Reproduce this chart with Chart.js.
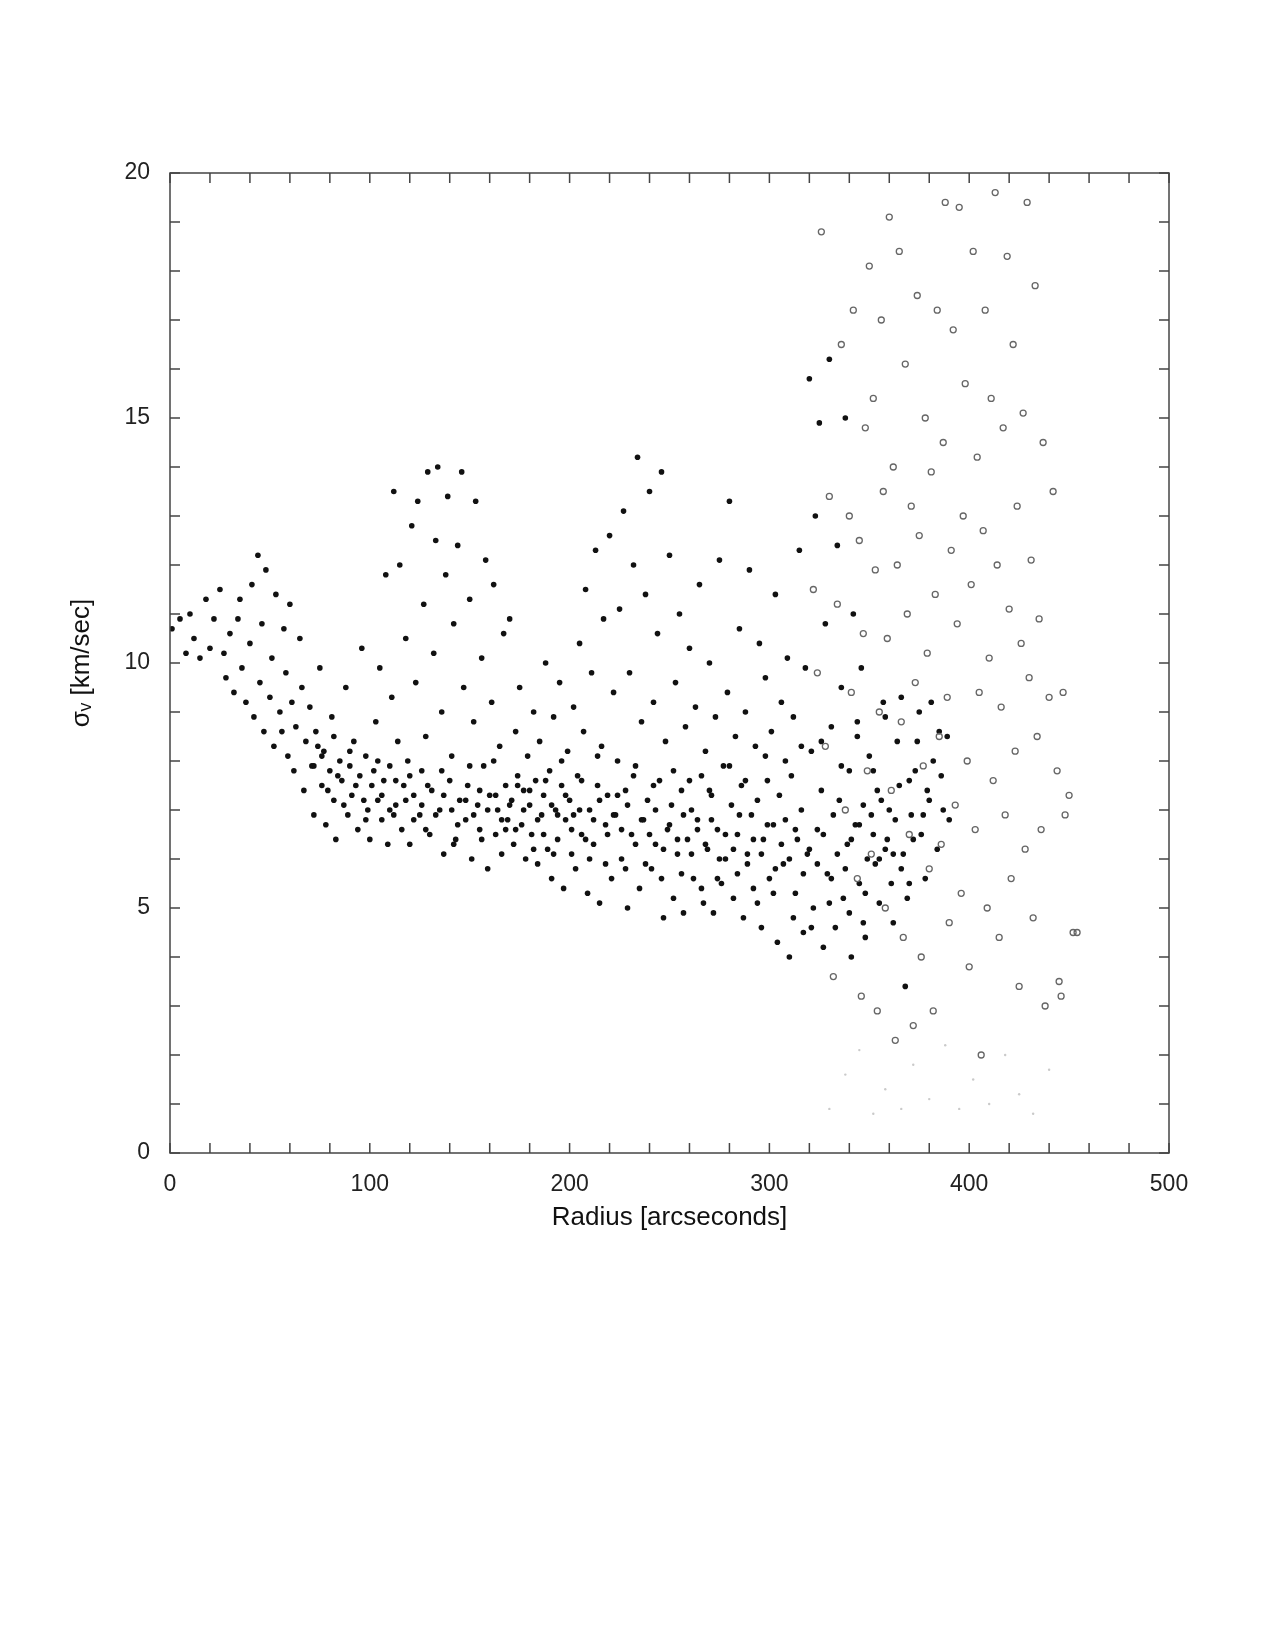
<!DOCTYPE html>
<html>
<head>
<meta charset="utf-8">
<script src="https://cdn.jsdelivr.net/npm/chart.js@4"></script>
<style>
  body { margin: 0; background: #fff; }
  #wrap { position: absolute; left: 0; top: 0; width: 1275px; height: 1650px; }
</style>
</head>
<body>
<div id="wrap"><canvas id="grafico"></canvas></div>
<script>
// ====================== DATA ======================
const xTicks = [0, 100, 200, 300, 400, 500];
const yTicks = [0, 5, 10, 15, 20];

// inner stars [radius, sigma]
const innerStars = [
[1,10.7],[5,10.9],[8,10.2],[10,11],[12,10.5],[15,10.1],[18,11.3],[20,10.3],[22,10.9],
[25,11.5],[27,10.2],[28,9.7],[30,10.6],[32,9.4],[34,10.9],[35,11.3],[36,9.9],[38,9.2],[40,10.4],[41,11.6],[42,8.9],[44,12.2],[45,9.6],[46,10.8],[47,8.6],[48,11.9],[50,9.3],[51,10.1],[52,8.3],[53,11.4],[55,9.0],[56,8.6],[57,10.7],[58,9.8],[59,8.1],[60,11.2],[61,9.2],[62,7.8],[63,8.7],[65,10.5],[66,9.5],[67,7.4],[68,8.4],[70,9.1],[71,7.9],[72,6.9],[73,8.6],[75,9.9],[76,7.5],[77,8.2],[78,6.7],[80,7.8],[81,8.9],[82,7.2],[83,6.4],[85,8.0],[86,7.6],[88,9.5],[89,6.9],[90,7.9],[91,7.3],[92,8.4],[94,6.6],[95,7.7],[96,10.3],[98,8.1],[99,7.0],[100,6.4],[101,7.5],[103,8.8],[104,7.2],[105,9.9],[106,6.8],[107,7.6],[108,11.8],[109,6.3],[110,7.9],[111,9.3],[112,13.5],[113,7.1],[114,8.4],[115,12.0],[116,6.6],[117,7.5],[118,10.5],[119,8.0],[120,6.3],[121,12.8],[122,7.3],[123,9.6],[124,13.3],[125,6.9],[126,7.8],[127,11.2],[128,8.5],[129,13.9],[130,6.5],[131,7.4],[132,10.2],[133,12.5],[134,14.0],[135,7.0],[136,9.0],[137,6.1],[138,11.8],[139,13.4],[140,7.6],[141,8.1],[142,10.8],[143,6.4],[144,12.4],[145,7.2],[146,13.9],[147,9.5],[148,6.8],[149,7.5],[150,11.3],[151,6.0],[152,8.8],[153,13.3],[154,7.1],[155,6.6],[156,10.1],[157,7.9],[158,12.1],[159,5.8],[160,7.3],[161,9.2],[162,11.6],[163,6.5],[164,7.0],[165,8.3],[166,6.1],[167,10.6],[168,7.5],[169,6.8],[170,10.9],[171,7.2],[172,6.3],[173,8.6],[174,7.7],[175,9.5],[176,6.7],[177,7.4],[178,6.0],[179,8.1],[180,7.1],[181,6.5],[182,9.0],[183,7.6],[184,5.9],[185,8.4],[186,6.9],[187,7.3],[188,10.0],[189,6.2],[190,7.8],[191,5.6],[192,8.9],[193,7.0],[194,6.4],[195,9.6],[196,7.5],[197,5.4],[198,6.8],[199,8.2],[200,7.2],[201,6.1],[202,9.1],[203,5.8],[204,7.7],[205,10.4],[206,6.5],[207,8.6],[208,11.5],[209,5.3],[210,7.0],[211,9.8],[212,6.3],[213,12.3],[214,7.5],[215,5.1],[216,8.3],[217,10.9],[218,6.7],[219,7.3],[220,12.6],[221,5.6],[222,9.4],[223,6.9],[224,8.0],[225,11.1],[226,6.0],[227,13.1],[228,7.4],[229,5.0],[230,9.8],[231,6.5],[232,12.0],[233,7.9],[234,14.2],[235,5.4],[236,8.8],[237,6.8],[238,11.4],[239,7.2],[240,13.5],[241,5.8],[242,9.2],[243,6.3],[244,10.6],[245,7.6],[246,13.9],[247,4.8],[248,8.4],[249,6.6],[250,12.2],[251,7.1],[252,5.2],[253,9.6],[254,6.1],[255,11.0],[256,7.4],[257,4.9],[258,8.7],[259,6.4],[260,10.3],[261,7.0],[262,5.6],[263,9.1],[264,6.8],[265,11.6],[266,7.7],[267,5.1],[268,8.2],[269,6.2],[270,10.0],[271,7.3],[272,4.9],[273,8.9],[274,6.6],[275,12.1],[276,5.5],[277,7.9],[278,6.0],[279,9.4],[280,13.3],[281,7.1],[282,5.2],[283,8.5],[284,6.5],[285,10.7],[286,7.5],[287,4.8],[288,9.0],[289,6.1],[290,11.9],[291,6.9],[292,5.4],[293,8.3],[294,7.2],[295,10.4],[296,4.6],[297,6.4],[298,9.7],[299,7.6],[300,5.6],[301,8.6],[302,6.7],[303,11.4],[304,4.3],[305,7.3],[306,9.2],[307,5.9],[308,6.8],[309,10.1],[310,4.0],[311,7.7],[312,8.9],[313,5.3],[314,6.4],[315,12.3],[316,7.0],[317,4.5],[318,9.9],[319,6.1],[320,15.8],[321,8.2],[322,5.0],[323,13.0],[324,6.6],[325,14.9],[326,7.4],[327,4.2],[328,10.8],[329,5.7],[330,16.2],[331,8.7],[332,6.9],[333,4.6],[334,12.4],[335,7.2],[336,9.5],[337,5.2],[338,15.0],[339,6.3],[340,7.8],[341,4.0],[342,11.0],[343,6.7],[344,8.5],[345,5.5],[346,9.9],[347,7.1],[348,4.4],[349,6.0],[350,8.1],[352,6.5],[354,7.4],[355,5.1],[357,9.2],[358,6.2],[360,7.0],[362,4.7],[364,8.4],[366,5.8],[368,3.4],[370,7.6],[372,6.4],[375,9.0],[378,5.6],[380,7.2],[385,8.6],[390,6.8]
];

// dense core of the band [radius, sigma]
const bandStars = [
[72,7.9],[76,8.1],[79,7.4],[84,7.7],[87,7.1],[93,7.5],[97,7.2],[102,7.8],[106,7.3],[110,7.0],[113,7.6],[118,7.2],[122,6.8],[126,7.1],[129,7.5],[133,6.9],[137,7.3],[141,7.0],[144,6.7],[148,7.2],[152,6.9],[155,7.4],[159,7.0],[163,7.3],[166,6.8],[170,7.1],[173,6.6],[177,7.0],[180,7.4],[184,6.8],[187,6.5],[191,7.1],[194,6.9],[198,7.3],[201,6.6],[205,7.0],[208,6.4],[212,6.8],[215,7.2],[219,6.5],[222,6.9],[226,6.6],[229,7.1],[233,6.3],[236,6.8],[240,6.5],[243,7.0],[247,6.2],[250,6.7],[254,6.4],[257,6.9],[261,6.1],[264,6.6],[268,6.3],[271,6.8],[275,6.0],[278,6.5],[282,6.2],[285,6.9],[289,5.9],[292,6.4],[296,6.1],[299,6.7],[303,5.8],[306,6.3],[310,6.0],[313,6.6],[317,5.7],[320,6.2],[324,5.9],[327,6.5],[331,5.6],[334,6.1],[338,5.8],[341,6.4],[345,6.7],[348,5.3],[351,6.9],[353,5.9],[356,7.2],[359,6.4],[361,5.5],[363,6.8],[365,7.5],[367,6.1],[369,5.2],[371,6.9],[373,7.8],[376,6.5],[379,7.4],[382,8.0],[384,6.2],[387,7.0],[389,8.5]
];

// more of the band, upper and lower edges [radius, sigma]
const bandEdge = [
[74,8.3],[82,8.5],[90,8.2],[98,6.8],[104,8.0],[112,6.9],[120,7.7],[128,6.6],[136,7.8],[142,6.3],[150,7.9],[156,6.4],[162,8.0],[168,6.6],[174,7.5],[182,6.2],[188,7.6],[192,6.1],[196,8.0],[202,6.9],[206,7.6],[210,6.0],[214,8.1],[218,5.9],[224,7.3],[228,5.8],[232,7.7],[238,5.9],[242,7.5],[246,5.6],[252,7.8],[256,5.7],[260,7.6],[266,5.4],[270,7.4],[274,5.6],[280,7.9],[284,5.7],[288,7.6],[294,5.1],[298,8.1],[302,5.3],[308,8.0],[312,4.8],[316,8.3],[321,4.6],[326,8.4],[330,5.1],[336,7.9],[340,4.9],[344,8.8],[347,4.7],[352,7.8],[355,6.0],[358,8.9],[362,6.1],[366,9.3],[370,5.5],[374,8.4],[377,6.9],[381,9.2],[386,7.7]
];

// outer stars, grey open circles [radius, sigma]
const outerStars = [
[322,11.5],[324,9.8],[326,18.8],[328,8.3],[330,13.4],[332,3.6],[334,11.2],[336,16.5],[338,7.0],[340,13.0],[341,9.4],[342,17.2],[344,5.6],[345,12.5],[346,3.2],[347,10.6],[348,14.8],[349,7.8],[350,18.1],[351,6.1],[352,15.4],[353,11.9],[354,2.9],[355,9.0],[356,17.0],[357,13.5],[358,5.0],[359,10.5],[360,19.1],[361,7.4],[362,14.0],[363,2.3],[364,12.0],[365,18.4],[366,8.8],[367,4.4],[368,16.1],[369,11.0],[370,6.5],[371,13.2],[372,2.6],[373,9.6],[374,17.5],[375,12.6],[376,4.0],[377,7.9],[378,15.0],[379,10.2],[380,5.8],[381,13.9],[382,2.9],[383,11.4],[384,17.2],[385,8.5],[386,6.3],[387,14.5],[388,19.4],[389,9.3],[390,4.7],[391,12.3],[392,16.8],[393,7.1],[394,10.8],[395,19.3],[396,5.3],[397,13.0],[398,15.7],[399,8.0],[400,3.8],[401,11.6],[402,18.4],[403,6.6],[404,14.2],[405,9.4],[406,2.0],[407,12.7],[408,17.2],[409,5.0],[410,10.1],[411,15.4],[412,7.6],[413,19.6],[414,12.0],[415,4.4],[416,9.1],[417,14.8],[418,6.9],[419,18.3],[420,11.1],[421,5.6],[422,16.5],[423,8.2],[424,13.2],[425,3.4],[426,10.4],[427,15.1],[428,6.2],[429,19.4],[430,9.7],[431,12.1],[432,4.8],[433,17.7],[434,8.5],[435,10.9],[436,6.6],[437,14.5],[438,3.0],[440,9.3],[442,13.5],[444,7.8],[445,3.5],[446,3.2],[447,9.4],[448,6.9],[450,7.3],[452,4.5],[454,4.5]
];

// faint low points [radius, sigma]
const faintStars = [
[330,0.9],[338,1.6],[345,2.1],[352,0.8],[358,1.3],[366,0.9],[372,1.8],[380,1.1],[388,2.2],[395,0.9],[402,1.5],[410,1.0],[418,2.0],[425,1.2],[432,0.8],[440,1.7]
];

const toXY = arr => arr.map(p => ({ x: p[0], y: p[1] }));

// ====================== TICKS PLUGIN ======================
const frameTicks = {
  id: "frameTicks",
  afterDraw(chart) {
    const { ctx, chartArea: a, scales } = chart;
    const xs = scales.x, ys = scales.y;
    ctx.save();
    ctx.strokeStyle = "#444";
    ctx.lineWidth = 1.5;
    ctx.strokeRect(a.left, a.top, a.right - a.left, a.bottom - a.top);
    ctx.beginPath();
    for (let v = 0; v <= 500; v += 20) {
      const px = xs.getPixelForValue(v);
      ctx.moveTo(px, a.bottom); ctx.lineTo(px, a.bottom - 10);
      ctx.moveTo(px, a.top); ctx.lineTo(px, a.top + 10);
    }
    for (let v = 0; v <= 20; v += 1) {
      const py = ys.getPixelForValue(v);
      ctx.moveTo(a.left, py); ctx.lineTo(a.left + 10, py);
      ctx.moveTo(a.right, py); ctx.lineTo(a.right - 10, py);
    }
    ctx.stroke();
    ctx.restore();
  },
};

// ====================== CHART ======================
const font = { family: "Liberation Sans, Arial, sans-serif", size: 23 };

const config = {
  type: "scatter",
  data: {
    datasets: [
      { data: toXY(faintStars), pointRadius: 1.2, backgroundColor: "rgba(150,150,150,0.5)", borderWidth: 0 },
      { data: toXY(outerStars), pointRadius: 3, backgroundColor: "rgba(0,0,0,0)", borderColor: "#666", borderWidth: 1.3 },
      { data: toXY(innerStars), pointRadius: 2.8, backgroundColor: "#111", borderWidth: 0 },
      { data: toXY(bandStars), pointRadius: 2.8, backgroundColor: "#111", borderWidth: 0 },
      { data: toXY(bandEdge), pointRadius: 2.8, backgroundColor: "#111", borderWidth: 0 },
    ],
  },
  options: {
    responsive: true,
    maintainAspectRatio: false,
    animation: false,
    layout: { padding: { left: 66, top: 173, right: 106, bottom: 417 } },
    plugins: { legend: { display: false }, tooltip: { enabled: false } },
    scales: {
      x: {
        type: "linear", min: 0, max: 500,
        afterBuildTicks: s => { s.ticks = xTicks.map(v => ({ value: v })); },
        afterFit: s => { s.height = 80; },
        grid: { display: false },
        border: { display: false },
        ticks: { color: "#222", font, padding: 10 },
        title: { display: true, text: "Radius [arcseconds]", color: "#111", font: { ...font, size: 26 }, padding: 0 },
      },
      y: {
        type: "linear", min: 0, max: 20,
        afterBuildTicks: s => { s.ticks = yTicks.map(v => ({ value: v })); },
        afterFit: s => { s.width = 104; },
        grid: { display: false },
        border: { display: false },
        ticks: { color: "#222", font, padding: 12 },
        title: { display: true, text: "σᵥ [km/sec]", color: "#111", font: { ...font, size: 26 }, padding: 0 },
      },
    },
  },
  plugins: [frameTicks],
};

const grafico = new Chart(document.getElementById("grafico"), config);
</script>
</body>
</html>
